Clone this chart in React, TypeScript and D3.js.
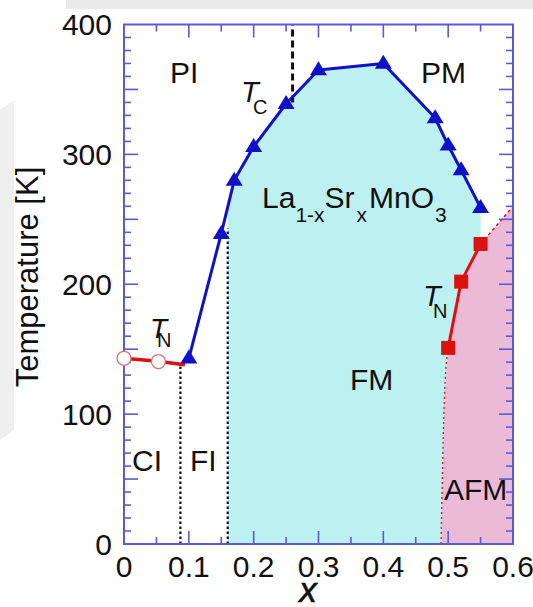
import React from "react";
import * as d3 from "d3";

// ---- data ----
const tcX = [0.1, 0.15, 0.17, 0.2, 0.25, 0.3, 0.4, 0.48, 0.5, 0.52, 0.55];
const tcT = [143, 239, 280, 306, 339, 365, 370, 328, 307, 288, 259];

const tnAfmX = [0.5, 0.52, 0.55];
const tnAfmT = [151, 202, 231];

const tnCiX = [0, 0.053, 0.094];
const tnCiT = [143, 140.5, 138];

const afmLowerX = [0.489, 0.491, 0.494, 0.5];
const afmLowerT = [0, 50, 110, 151];

const afmUpperX = [0.55, 0.6];
const afmUpperT = [231, 260];

const ciFiX = 0.087;
const ciFiTop = 137;
const fiFmX = 0.16;
const fiFmTop = 243;
const dashX = 0.26;
const dashT = [340, 400];

const xTickLabels = ["0", "0.1", "0.2", "0.3", "0.4", "0.5", "0.6"];
const xTickValues = [0, 0.1, 0.2, 0.3, 0.4, 0.5, 0.6];
const yTickValues = [0, 100, 200, 300, 400];

const W = 533;
const H = 607;
const FONT = "'Liberation Sans', Arial, Helvetica, sans-serif";
const AXIS = "#5a5ad6";
const BLUE = "#1010c8";
const RED = "#dd1010";
const CYAN = "#bdf0f1";
const PINK = "#ebbad7";

export default function App() {
  const x = d3.scaleLinear().domain([0, 0.6]).range([124, 513]);
  const y = d3.scaleLinear().domain([0, 400]).range([544, 24.5]);

  const pts = (xs: number[], ts: number[]) => xs.map((v, i) => [v, ts[i]] as [number, number]);
  const line = d3.line<[number, number]>().x((d) => x(d[0])).y((d) => y(d[1]));
  const curve = d3
    .line<[number, number]>()
    .x((d) => x(d[0]))
    .y((d) => y(d[1]))
    .curve(d3.curveMonotoneX);

  const tc = pts(tcX, tcT);
  const tnAfm = pts(tnAfmX, tnAfmT);
  const tnCi = pts(tnCiX, tnCiT);
  const afmLower = pts(afmLowerX, afmLowerT);
  const afmUpper = pts(afmUpperX, afmUpperT);

  // T at x = fiFmX along Tc line
  const i1 = tcX.findIndex((v) => v > fiFmX);
  const tAtFi =
    tcT[i1 - 1] + ((tcT[i1] - tcT[i1 - 1]) * (fiFmX - tcX[i1 - 1])) / (tcX[i1] - tcX[i1 - 1]);

  const cyanPoly: [number, number][] = [
    [fiFmX, 0],
    [fiFmX, tAtFi],
    ...tc.filter((d) => d[0] > fiFmX),
    [tnAfmX[tnAfmX.length - 1], tnAfmT[tnAfmT.length - 1]],
    ...tnAfm.slice().reverse().slice(1),
    ...afmLower.slice().reverse().slice(1),
  ];
  const pinkPoly: [number, number][] = [
    ...afmLower,
    ...tnAfm.slice(1),
    afmUpper[1],
    [0.6, 0],
  ];
  const poly = (p: [number, number][]) => line(p) + "Z";

  // ticks
  const xMinor = d3.range(0, 0.6001, 0.05);
  const yMinor = d3.range(0, 400.01, 10);
  const tickEls: JSX.Element[] = [];
  xMinor.forEach((v, i) => {
    const major = i % 2 === 0;
    const len = major ? 13 : 7;
    if (v > 0.001 && v < 0.599) {
      tickEls.push(<line key={"xb" + i} x1={x(v)} x2={x(v)} y1={y(0)} y2={y(0) - len} />);
      tickEls.push(<line key={"xt" + i} x1={x(v)} x2={x(v)} y1={y(400)} y2={y(400) + len} />);
    }
  });
  yMinor.forEach((v, i) => {
    const major = i % 5 === 0;
    const len = major ? 14 : 7;
    if (v > 0.1 && v < 399.9) {
      tickEls.push(<line key={"yl" + i} x1={x(0)} x2={x(0) + len} y1={y(v)} y2={y(v)} />);
      tickEls.push(<line key={"yr" + i} x1={x(0.6)} x2={x(0.6) - len} y1={y(v)} y2={y(v)} />);
    }
  });

  const tri = (cx: number, cy: number) => {
    const s = 17;
    const h = 14;
    return `M${cx},${cy - h * 0.62}L${cx + s / 2},${cy + h * 0.38}L${cx - s / 2},${cy + h * 0.38}Z`;
  };

  return (
    <svg
      width={W}
      height={H}
      style={{ position: "absolute", left: 0, top: 0, background: "#fff" }}
      fontFamily={FONT}
    >
      {/* faint watermark background */}
      <rect x={66} y={0} width={467} height={9} fill="#e9e9e9" />
      <path d="M0,110 L14,100 L14,430 L0,440 Z" fill="#efefef" />

      {/* regions */}
      <path d={poly(cyanPoly)} fill={CYAN} />
      <path d={poly(pinkPoly)} fill={PINK} />

      {/* boundaries */}
      <line x1={x(ciFiX)} x2={x(ciFiX)} y1={y(0)} y2={y(ciFiTop)} stroke="#111" strokeWidth={2.2} strokeDasharray="2.5,2.5" />
      <line x1={x(fiFmX)} x2={x(fiFmX)} y1={y(0)} y2={y(fiFmTop)} stroke="#111" strokeWidth={2.2} strokeDasharray="2.5,2.5" />
      <line x1={x(dashX)} x2={x(dashX)} y1={y(dashT[0])} y2={y(dashT[1])} stroke="#111" strokeWidth={3} strokeDasharray="7,4" />
      <path d={curve(afmLower) || ""} fill="none" stroke={RED} strokeWidth={1.3} strokeDasharray="2,3" />
      <path d={line(afmUpper) || ""} fill="none" stroke={RED} strokeWidth={1.5} strokeDasharray="3,3" />

      {/* frame & ticks */}
      <g stroke={AXIS} strokeWidth={1.6}>{tickEls}</g>
      <rect x={x(0)} y={y(400)} width={x(0.6) - x(0)} height={y(0) - y(400)} fill="none" stroke={AXIS} strokeWidth={2} />

      {/* lines */}
      <path d={curve(tnCi) || ""} fill="none" stroke={RED} strokeWidth={3.5} />
      <path d={line(tc) || ""} fill="none" stroke={BLUE} strokeWidth={3} strokeLinejoin="round" />
      <path d={line(tnAfm) || ""} fill="none" stroke={RED} strokeWidth={3} />

      {/* markers */}
      {tnCi.slice(0, 2).map((d, i) => (
        <circle key={"c" + i} cx={x(d[0])} cy={y(d[1])} r={7} fill="#fff" stroke="#e07070" strokeWidth={1.3} />
      ))}
      {tc.map((d, i) => (
        <path key={"t" + i} d={tri(x(d[0]), y(d[1]))} fill={BLUE} />
      ))}
      {tnAfm.map((d, i) => (
        <rect key={"s" + i} x={x(d[0]) - 7} y={y(d[1]) - 7} width={14} height={14} fill={RED} />
      ))}

      {/* tick labels */}
      <g fontSize={30} fill="#111">
        {yTickValues.map((v) => (
          <text key={"yl" + v} x={112} y={y(v)} textAnchor="end" dominantBaseline="central">
            {v}
          </text>
        ))}
        {xTickValues.map((v, i) => (
          <text key={"xl" + v} x={x(v)} y={577} textAnchor="middle">
            {xTickLabels[i]}
          </text>
        ))}
      </g>

      {/* axis titles */}
      <text x={308} y={602} textAnchor="middle" fontSize={35} fontStyle="italic" fill="#111" stroke="#111" strokeWidth={0.6}>
        x
      </text>
      <text
        transform="translate(38,277) rotate(-90)"
        textAnchor="middle"
        fontSize={31}
        fill="#111"
      >
        Temperature [K]
      </text>

      {/* region labels */}
      <g fontSize={30} fill="#111">
        <text x={170} y={83}>PI</text>
        <text x={421} y={83}>PM</text>
        <text x={350} y={390}>FM</text>
        <text x={132} y={471}>CI</text>
        <text x={190} y={471}>FI</text>
        <text x={444} y={500}>AFM</text>

        <text x={241} y={102} fontStyle="italic" fontSize={29}>T</text>
        <text x={253} y={114} fontSize={20}>C</text>

        <text x={150} y={338} fontStyle="italic" fontSize={28}>T</text>
        <text x={157} y={347} fontSize={20}>N</text>

        <text x={423} y={306} fontStyle="italic" fontSize={29}>T</text>
        <text x={433} y={318} fontSize={20}>N</text>

        <text x={262} y={208}>
          <tspan>La</tspan>
          <tspan fontSize={21} dy={14}>1-x</tspan>
          <tspan dy={-14}>Sr</tspan>
          <tspan fontSize={21} dx={2} dy={14}>x</tspan>
          <tspan dy={-14} dx={2}>MnO</tspan>
          <tspan fontSize={21} dx={1} dy={14}>3</tspan>
        </text>
      </g>
    </svg>
  );
}
